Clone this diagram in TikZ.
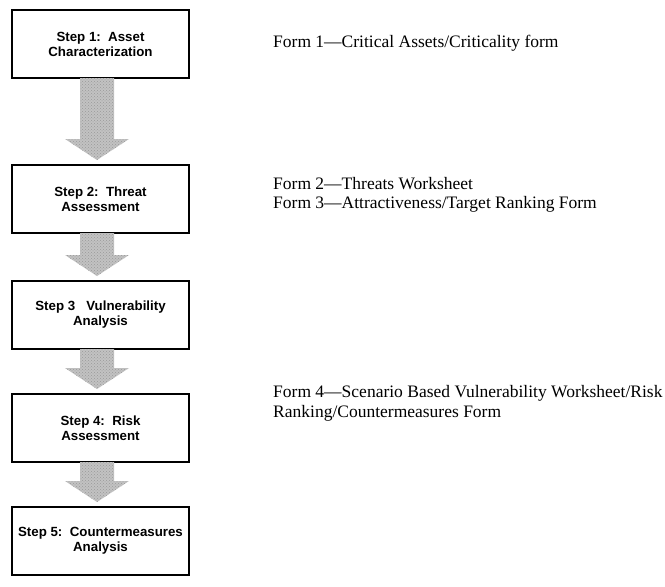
\documentclass[tikz,border=0pt]{standalone}
\usepackage{fontspec}
\setmainfont{Liberation Serif}
\newfontfamily\boxfont{Liberation Sans}
\usetikzlibrary{calc,patterns}
\tikzset{
  stepbox/.style={draw=black, line width=2pt, fill=white, minimum width=177pt,
    minimum height=68pt, inner sep=0pt, align=center,
    font=\boxfont\bfseries\fontsize{13.3}{15}\selectfont},
  formtext/.style={anchor=base west, inner sep=0pt, align=left,
    font=\fontsize{17.5}{19.5}\selectfont},
  arrowfill/.style={fill=black!24, draw=none},
  arrowdots/.style={pattern=crosshatch dots, pattern color=black!40, draw=none}
}
\newcommand{\blockarrow}[2]{%
  \path[arrowfill] let \p1=(#1.south), \p2=(#2.north) in
    (\x1-20.5pt,\y1+1pt) -- (\x1-20.5pt,\y2+25pt) -- (\x1-35.5pt,\y2+25pt)
    -- (\x1-3.5pt,\y2+4pt) -- (\x1+28.5pt,\y2+25pt) -- (\x1+13.5pt,\y2+25pt)
    -- (\x1+13.5pt,\y1+1pt) -- cycle;
  \path[arrowdots] let \p1=(#1.south), \p2=(#2.north) in
    (\x1-20.5pt,\y1+1pt) -- (\x1-20.5pt,\y2+25pt) -- (\x1-35.5pt,\y2+25pt)
    -- (\x1-3.5pt,\y2+4pt) -- (\x1+28.5pt,\y2+25pt) -- (\x1+13.5pt,\y2+25pt)
    -- (\x1+13.5pt,\y1+1pt) -- cycle;}
\begin{document}
\begin{tikzpicture}[x=1pt,y=-1pt]
\useasboundingbox (0,0) rectangle (665,587);
\node[stepbox] (b1) at (100.5,44) {Step 1:\ \ Asset\\Characterization};
\node[stepbox] (b2) at (100.5,199) {Step 2:\ \ Threat\\Assessment};
\node[stepbox] (b3) at (100.5,315) {Step 3\ \ \ Vulnerability\\Analysis};
\node[stepbox] (b4) at (100.5,428) {Step 4:\ \ Risk\\Assessment};
\node[stepbox] (b5) at (100.5,541) {Step 5:\ \ Countermeasures\\Analysis};
\blockarrow{b1}{b2}
\blockarrow{b2}{b3}
\blockarrow{b3}{b4}
\blockarrow{b4}{b5}
\node[formtext] (f1) at (273,47) {Form 1—Critical Assets/Criticality form};
\node[formtext] (f2) at (273,208.5) {Form 2—Threats Worksheet\\Form 3—Attractiveness/Target Ranking Form};
\node[formtext] (f4) at (273,417) {Form 4—Scenario Based Vulnerability Worksheet/Risk\\Ranking/Countermeasures Form};
\end{tikzpicture}
\end{document}
